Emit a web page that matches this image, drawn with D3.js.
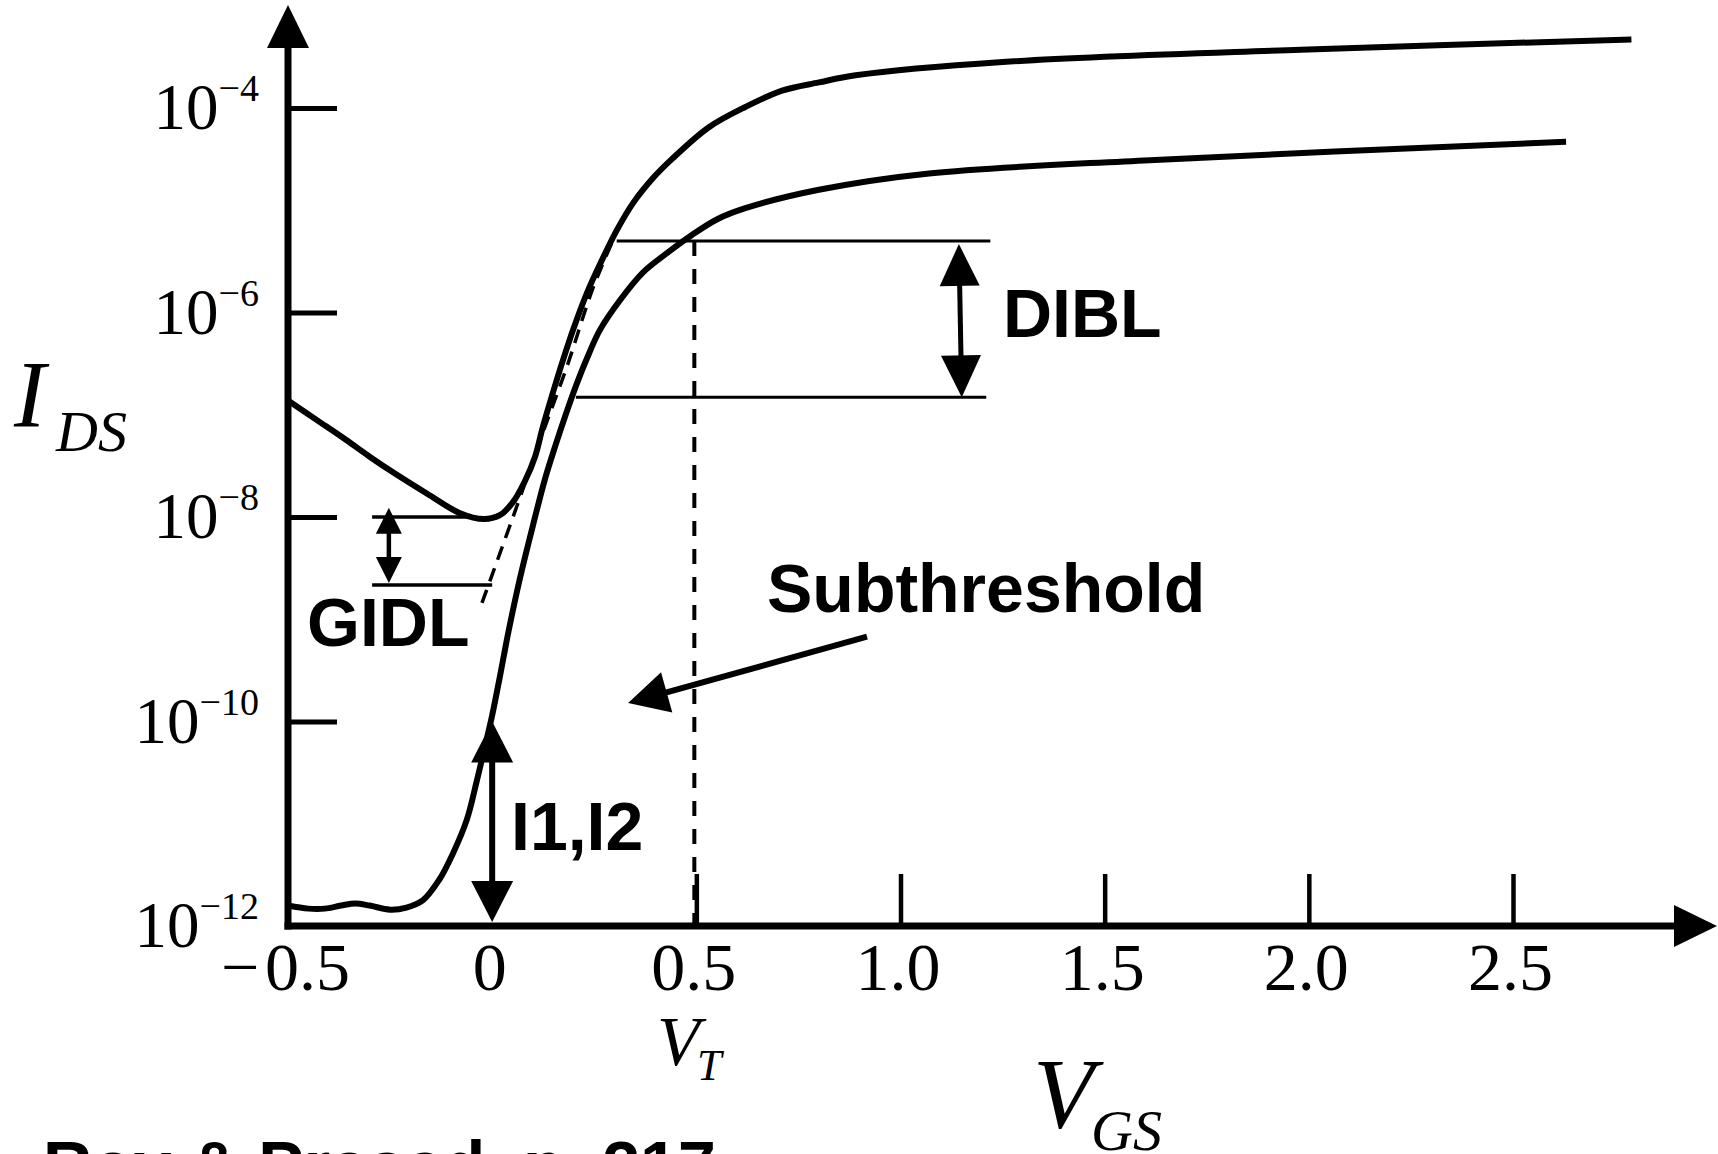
<!DOCTYPE html>
<html>
<head>
<meta charset="utf-8">
<script src="https://cdn.jsdelivr.net/npm/d3@7"></script>
<style>
  html, body { margin: 0; padding: 0; background: #fff; }
  svg { display: block; }
</style>
</head>
<body>
<div id="chart"></div>
<script>
// Axis ticks and labels
const xTickVals = [0.5, 1.0, 1.5, 2.0, 2.5]
const xLabelVals = [-0.5, 0, 0.5, 1.0, 1.5, 2.0, 2.5]
const xLabels = ['\u2212\u200A0.5', '0', '0.5', '1.0', '1.5', '2.0', '2.5']
const yTickExps = [-4, -6, -8, -10]
const yLabelExps = [-4, -6, -8, -10, -12]

// Curves: [VGS, log10(IDS)]
const highVds = [
  [-0.50, -6.86], [-0.43, -7.05], [-0.36, -7.24], [-0.30, -7.41], [-0.24, -7.57],
  [-0.16, -7.77], [-0.08, -7.96], [-0.02, -8.02], [0.02, -7.98], [0.05, -7.86],
  [0.08, -7.65], [0.105, -7.41], [0.124, -7.12], [0.149, -6.78], [0.173, -6.47],
  [0.198, -6.17], [0.232, -5.81], [0.265, -5.52], [0.306, -5.19], [0.345, -4.93],
  [0.395, -4.68], [0.44, -4.50], [0.53, -4.19], [0.62, -3.99], [0.71, -3.83],
  [0.80, -3.75], [0.89, -3.68], [1.25, -3.55], [1.98, -3.43], [2.79, -3.33]
]
const lowVds = [
  [-0.50, -11.80], [-0.45, -11.83], [-0.41, -11.83], [-0.37, -11.80], [-0.335, -11.78],
  [-0.30, -11.80], [-0.25, -11.84], [-0.21, -11.82], [-0.17, -11.75], [-0.13, -11.55],
  [-0.096, -11.29], [-0.062, -10.96], [-0.037, -10.57], [-0.018, -10.25], [0.0, -9.94],
  [0.018, -9.58], [0.04, -9.12], [0.068, -8.60], [0.10, -8.08], [0.13, -7.62],
  [0.155, -7.30], [0.18, -7.00], [0.205, -6.72], [0.232, -6.45], [0.264, -6.17],
  [0.313, -5.88], [0.369, -5.61], [0.428, -5.42], [0.49, -5.24], [0.55, -5.09],
  [0.62, -4.98], [0.80, -4.80], [1.07, -4.64], [1.61, -4.51], [2.63, -4.33]
]
// Subthreshold extrapolation below the GIDL minimum
const extrapolated = [
  [-0.025, -8.84], [0.06, -7.90], [0.12, -7.22], [0.183, -6.53], [0.247, -5.76], [0.305, -5.21]
]

// Annotations in data units
const vt = 0.5
const diblLines = [[0.305, 1.22, -5.30], [0.205, 1.21, -6.83]]   // [vFrom, vTo, log10 I]
const gidlLines = [[-0.294, -0.05, -8.0], [-0.294, 0.0, -8.665]]
const diblArrow = [[1.143, -5.33], [1.150, -6.83]]
const gidlArrow = [[-0.253, -7.91], [-0.253, -8.645]]
const leakArrow = [[0.0, -10.0], [0.0, -11.96]]
const subArrow = [[0.918, -9.17], [0.333, -9.82]]

const width = 1718
const height = 1154
const serif = '"Liberation Serif", "Times New Roman", serif'
const sans = '"Liberation Sans", Arial, sans-serif'

const x = d3.scaleLinear().domain([-0.5, 2.5]).range([288, 1513])
const y = d3.scaleLog().domain([1e-12, 1e-4]).range([926, 108])
const px = d => x(d[0])
const py = d => y(Math.pow(10, d[1]))

const svg = d3.select('#chart').append('svg')
  .attr('width', width)
  .attr('height', height)
  .style('background', '#fff')

// Arrow helpers
function head(g, tx, ty, ux, uy, len, half) {
  const bx = tx - ux * len, by = ty - uy * len
  g.append('path')
    .attr('d', `M${tx},${ty}L${bx - uy * half},${by + ux * half}L${bx + uy * half},${by - ux * half}Z`)
    .attr('fill', '#000')
}
function arrow(g, p1, p2, len, half, sw, both) {
  const x1 = px(p1), y1 = py(p1), x2 = px(p2), y2 = py(p2)
  const d = Math.hypot(x2 - x1, y2 - y1), ux = (x2 - x1) / d, uy = (y2 - y1) / d
  const s = both ? len - 2 : 0
  g.append('line')
    .attr('x1', x1 + ux * s).attr('y1', y1 + uy * s)
    .attr('x2', x2 - ux * (len - 2)).attr('y2', y2 - uy * (len - 2))
    .attr('stroke', '#000').attr('stroke-width', sw)
  head(g, x2, y2, ux, uy, len, half)
  if (both) head(g, x1, y1, -ux, -uy, len, half)
}

const gAnn = svg.append('g')

// Vt dashed vertical
gAnn.append('line')
  .attr('x1', x(vt) - 2).attr('x2', x(vt) - 2)
  .attr('y1', py([vt, diblLines[0][2]])).attr('y2', y(1e-12))
  .attr('stroke', '#000').attr('stroke-width', 4)
  .attr('stroke-dasharray', '15,13')

// Extrapolated subthreshold line
const line = d3.line().x(px).y(py).curve(d3.curveCatmullRom.alpha(0.5))
gAnn.append('path')
  .attr('d', line(extrapolated))
  .attr('fill', 'none').attr('stroke', '#000').attr('stroke-width', 3.5)
  .attr('stroke-dasharray', '14,9')

// DIBL and GIDL reference lines
gAnn.selectAll('.dibl')
  .data(diblLines)
  .join('line')
  .attr('class', 'dibl')
  .attr('x1', d => x(d[0])).attr('x2', d => x(d[1]))
  .attr('y1', d => py([0, d[2]])).attr('y2', d => py([0, d[2]]))
  .attr('stroke', '#000').attr('stroke-width', 3)
gAnn.selectAll('.gidl')
  .data(gidlLines)
  .join('line')
  .attr('class', 'gidl')
  .attr('x1', d => x(d[0])).attr('x2', d => x(d[1]))
  .attr('y1', d => py([0, d[2]])).attr('y2', d => py([0, d[2]]))
  .attr('stroke', '#000').attr('stroke-width', 3.5)

// Curves
svg.selectAll('.curve')
  .data([highVds, lowVds])
  .join('path')
  .attr('class', 'curve')
  .attr('d', line)
  .attr('fill', 'none')
  .attr('stroke', '#000')
  .attr('stroke-width', 6)
  .attr('stroke-linejoin', 'round')

// Annotation arrows
arrow(gAnn, diblArrow[0], diblArrow[1], 42, 20, 5, true)
arrow(gAnn, gidlArrow[0], gidlArrow[1], 26, 13, 4.5, true)
arrow(gAnn, leakArrow[0], leakArrow[1], 41, 21, 6, true)
arrow(gAnn, subArrow[0], subArrow[1], 40, 21, 6, false)

// Axes
const gAxis = svg.append('g')
gAxis.append('line')
  .attr('x1', 288).attr('x2', 288).attr('y1', 929.5).attr('y2', 44)
  .attr('stroke', '#000').attr('stroke-width', 7)
head(gAxis, 288, 5, 0, -1, 43, 21)
gAxis.append('line')
  .attr('x1', 284.5).attr('x2', 1678).attr('y1', 926).attr('y2', 926)
  .attr('stroke', '#000').attr('stroke-width', 7)
head(gAxis, 1717, 926, 1, 0, 43, 21)

const yTicks = svg.append('g')
  .attr('transform', 'translate(288,0)')
  .call(d3.axisRight(y).tickValues(yTickExps.map(e => Math.pow(10, e))).tickSize(49).tickFormat(''))
yTicks.select('.domain').remove()
yTicks.selectAll('.tick line').attr('stroke-width', 5)

const xTicks = svg.append('g')
  .attr('transform', 'translate(0,926)')
  .call(d3.axisTop(x).tickValues(xTickVals).tickSize(52).tickFormat(''))
xTicks.select('.domain').remove()
xTicks.selectAll('.tick line').attr('stroke-width', 4.5)

const xLab = svg.append('g')
  .attr('transform', 'translate(-3,926)')
  .call(d3.axisBottom(x).tickValues(xLabelVals).tickSize(0).tickPadding(16)
    .tickFormat((d, i) => xLabels[i]))
xLab.select('.domain').remove()
xLab.attr('font-family', serif).attr('font-size', 68)
xLab.selectAll('text').attr('fill', '#000')

// Y labels as 10 with superscript exponents
const yLab = svg.selectAll('.ylab')
  .data(yLabelExps)
  .join('text')
  .attr('class', 'ylab')
  .attr('x', 259)
  .attr('y', d => y(Math.pow(10, d)) + 21)
  .attr('text-anchor', 'end')
  .attr('font-family', serif)
  .attr('font-size', 65)
yLab.append('tspan').text('10')
yLab.append('tspan').attr('dy', -28).attr('font-size', 38).text(d => '\u2212' + (-d))

// Axis titles
function txt(t, xx, yy, size, opts = {}) {
  return svg.append('text')
    .attr('x', xx).attr('y', yy)
    .attr('font-family', opts.family || serif)
    .attr('font-size', size)
    .attr('font-style', opts.italic ? 'italic' : null)
    .attr('font-weight', opts.bold ? 'bold' : null)
    .text(t)
}
txt('I', 14, 427, 95, {italic: true})
txt('DS', 56, 451, 58, {italic: true})
txt('V', 1033, 1127, 100, {italic: true})
txt('GS', 1091, 1150, 58, {italic: true})
txt('V', 657, 1065, 70, {italic: true})
txt('T', 697, 1080, 44, {italic: true})

// Bold annotation labels
txt('DIBL', 1003, 337, 68, {family: sans, bold: true})
txt('Subthreshold', 767, 612, 68, {family: sans, bold: true})
txt('GIDL', 307, 646, 68, {family: sans, bold: true})
txt('I1,I2', 511, 850, 68, {family: sans, bold: true})
txt('Roy & Prasad, p. 217', 43, 1189, 68, {family: sans, bold: true})
</script>
</body>
</html>
